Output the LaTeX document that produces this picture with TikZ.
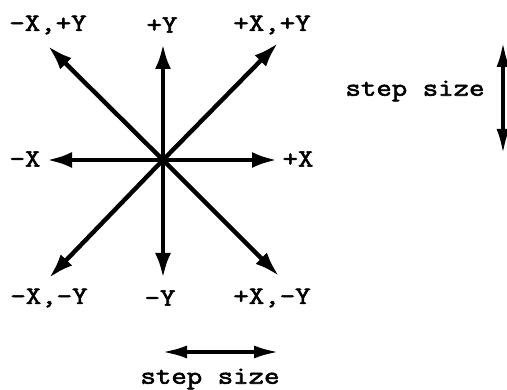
\documentclass[tikz,border=0pt]{standalone}
\usepackage{fontspec}
\newfontfamily\twfont{Latin Modern Mono}[FakeStretch=1.2,FakeBold=2.4]
\usetikzlibrary{arrows.meta}
\begin{document}
\begin{tikzpicture}[x=1pt,y=-1pt,
  vec/.style={line width=4.4pt,-{Latex[length=25pt,width=16pt]}},
  dvec/.style={line width=3.8pt,{Latex[length=25pt,width=13pt]}-{Latex[length=25pt,width=13pt]}},
  lbl/.style={inner sep=0pt,font=\twfont\fontsize{25}{25}\selectfont}]
\useasboundingbox (0,0) rectangle (507,390);
\coordinate (c) at (163,160);
\coordinate (pY) at (163,44);
\coordinate (mY) at (163,278);
\coordinate (pX) at (277,160);
\coordinate (mX) at (47,160);
\coordinate (pXpY) at (278,43);
\coordinate (mXpY) at (48,46);
\coordinate (mXmY) at (49,278);
\coordinate (pXmY) at (279,276);
\foreach \t in {pY,mY,pX,mX,pXpY,mXpY,mXmY,pXmY}
  \draw[vec] (c) -- (\t);
\node[lbl] (lmXpY) at (48,25) {-X,+Y};
\node[lbl] (lpY) at (162,25) {+Y};
\node[lbl] (lpXpY) at (272,25) {+X,+Y};
\node[lbl] (lmX) at (25,159) {-X};
\node[lbl] (lpX) at (298,159) {+X};
\node[lbl] (lmXmY) at (49,298) {-X,-Y};
\node[lbl] (lmY) at (160,298) {-Y};
\node[lbl] (lpXmY) at (272,298) {+X,-Y};
\coordinate (ba) at (162,352);
\coordinate (bb) at (279,352);
\draw[dvec] (ba) -- (bb);
\node[lbl] (bs) at (210,379) {step size};
\coordinate (ra) at (503,42);
\coordinate (rb) at (503,154);
\draw[dvec] (ra) -- (rb);
\node[lbl] (rs) at (415,91) {step size};
\end{tikzpicture}
\end{document}
